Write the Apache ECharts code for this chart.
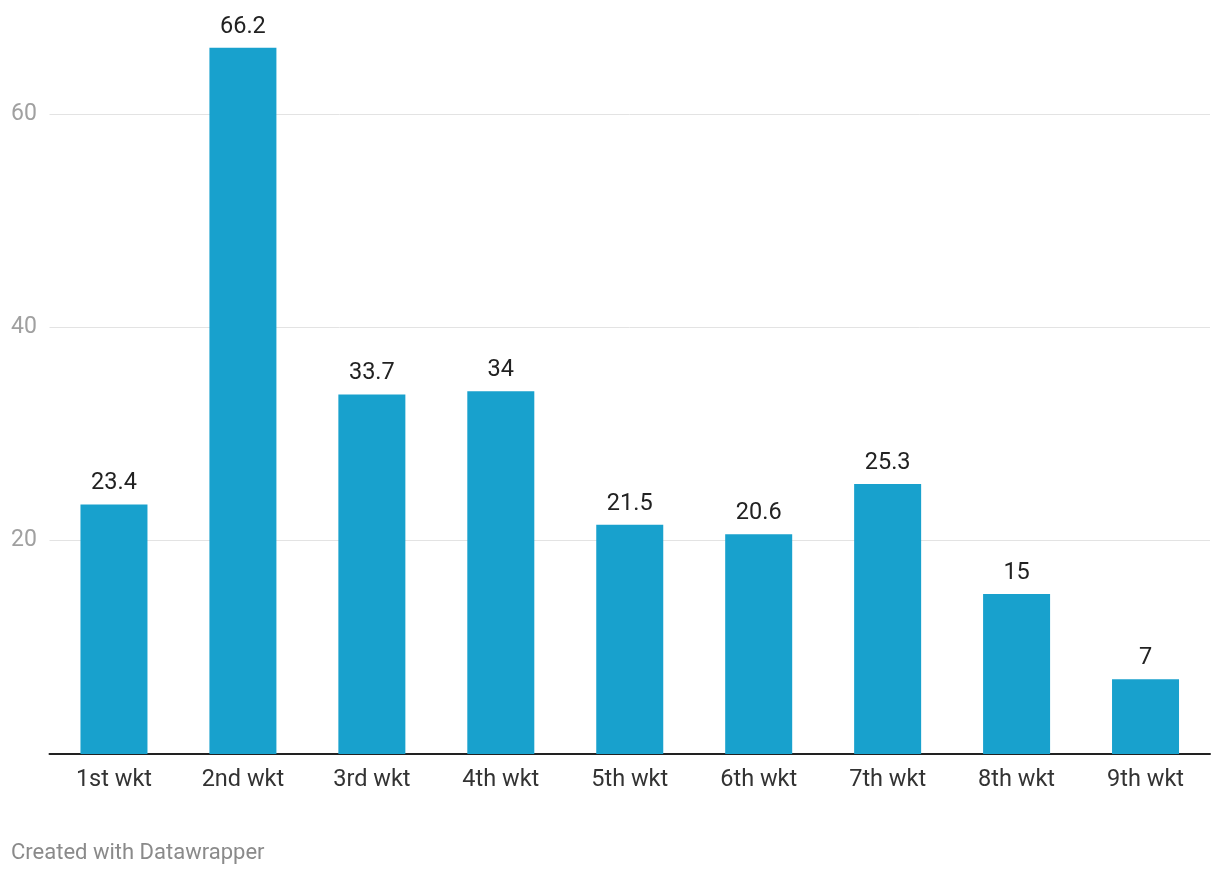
<!DOCTYPE html>
<html>
<head>
<meta charset="utf-8">
<script src="https://cdn.jsdelivr.net/npm/echarts@6/dist/echarts.min.js"></script>
<style>
html,body{margin:0;padding:0;background:#fff;}
#c{width:1220px;height:874px;}
</style>
</head>
<body>
<div id="c"></div>
<script>
const categories = ['1st wkt','2nd wkt','3rd wkt','4th wkt','5th wkt','6th wkt','7th wkt','8th wkt','9th wkt'];
const values = [23.4, 66.2, 33.7, 34, 21.5, 20.6, 25.3, 15, 7];
const yTicks = [20, 40, 60];

const chart = echarts.init(document.getElementById('c'), null, {renderer:'canvas'});
chart.setOption({
  animation:false,
  textStyle:{fontFamily:'Roboto'},
  grid:{left:49.5, right:10, top:7.3, bottom:120, containLabel:false},
  xAxis:{
    type:'category', data:categories,
    axisLine:{show:true, lineStyle:{color:'#222', width:2}},
    axisTick:{show:false},
    axisLabel:{color:'#333', fontSize:23.5, margin:14, fontFamily:'Roboto'}
  },
  yAxis:{
    type:'value', min:0, max:70, interval:20,
    axisLine:{show:false}, axisTick:{show:false},
    splitLine:{showMaxLine:false, lineStyle:{color:'#e3e3e3', width:1}},
    axisLabel:{color:'#a0a0a0', fontSize:23, align:'left', margin:38.5, fontFamily:'Roboto',
      formatter:v => yTicks.includes(v) ? String(v) : ''}
  },
  series:[{
    type:'bar', data:values, barWidth:67,
    itemStyle:{color:'#18a1cd'},
    label:{show:true, position:'top', distance:9, color:'#222', fontSize:23.5, fontFamily:'Roboto'}
  }],
  graphic:[{
    type:'text', left:11, top:842,
    style:{text:'Created with Datawrapper', fill:'#8a8a8a', font:'22px Roboto'}
  }]
});
</script>
</body>
</html>
